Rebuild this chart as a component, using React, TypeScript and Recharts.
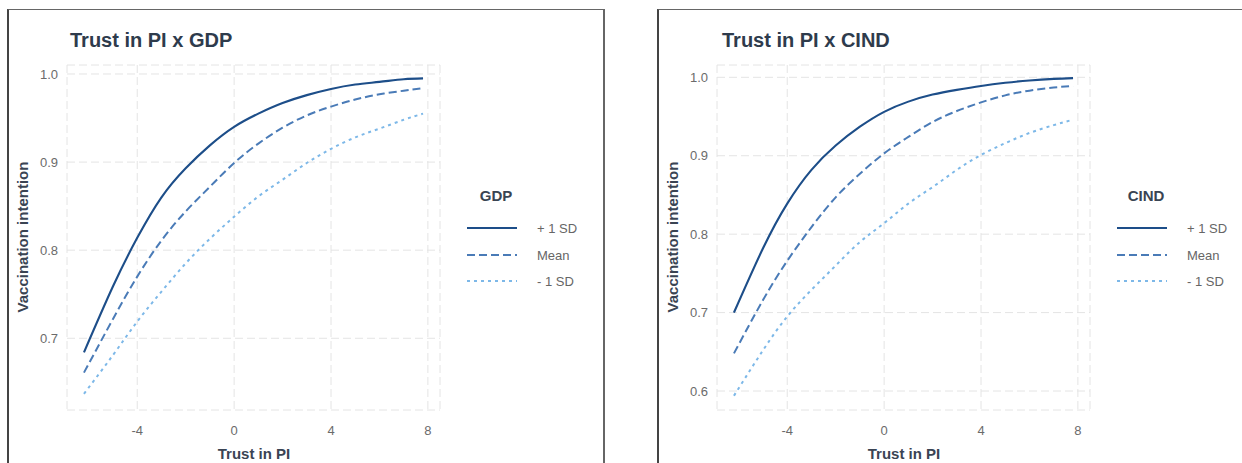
import React from 'react';
import { LineChart, Line, XAxis, YAxis, CartesianGrid, Legend } from 'recharts';

// Trust in public institutions (x) at which predicted intention is evaluated
const trustLevels = [-6.2, -5, -4, -3, -2, -1, 0, 1, 2, 3, 4, 5, 6, 7, 7.8];

// Predicted vaccination intention, GDP moderator
const gdpPlusSd = [0.684, 0.759, 0.814, 0.86, 0.893, 0.919, 0.94, 0.955, 0.967, 0.976, 0.983, 0.988, 0.991, 0.994, 0.995];
const gdpMean = [0.661, 0.722, 0.77, 0.811, 0.844, 0.872, 0.899, 0.921, 0.939, 0.953, 0.963, 0.971, 0.977, 0.981, 0.984];
const gdpMinusSd = [0.637, 0.681, 0.719, 0.753, 0.785, 0.813, 0.838, 0.861, 0.88, 0.899, 0.915, 0.928, 0.938, 0.948, 0.955];

// Predicted vaccination intention, CIND moderator
const cindPlusSd = [0.7, 0.782, 0.839, 0.882, 0.913, 0.937, 0.956, 0.969, 0.978, 0.984, 0.989, 0.993, 0.996, 0.998, 0.999];
const cindMean = [0.648, 0.716, 0.766, 0.809, 0.847, 0.877, 0.903, 0.924, 0.943, 0.957, 0.968, 0.977, 0.983, 0.987, 0.989];
const cindMinusSd = [0.594, 0.652, 0.695, 0.729, 0.76, 0.79, 0.814, 0.839, 0.86, 0.882, 0.901, 0.916, 0.929, 0.939, 0.946];

const xTicks = [-4, 0, 4, 8];
const gdpYTicks = [0.7, 0.8, 0.9, 1.0];
const cindYTicks = [0.6, 0.7, 0.8, 0.9, 1.0];
const seriesLabels = ['+ 1 SD', 'Mean', '- 1 SD'];

const FONT = '"Liberation Sans", Arial, Helvetica, sans-serif';

const lineStyles = [
  { key: 'high', color: '#1d4e89', dash: undefined as string | undefined, width: 2.1 },
  { key: 'mean', color: '#4a7bb7', dash: '8 4', width: 2 },
  { key: 'low', color: '#7db8e8', dash: '3 4', width: 2 },
];

type PanelProps = {
  left: number;
  title: string;
  titleX: number;
  moderator: string;
  high: number[];
  mean: number[];
  low: number[];
  yDomain: [number, number];
  yTicks: number[];
};

function LegendBlock({ moderator }: { moderator: string }) {
  return (
    <div style={{ position: 'relative', width: 150, height: 120, fontFamily: FONT }}>
      <div
        style={{
          position: 'absolute',
          left: 36,
          top: 15,
          transform: 'translate(-50%, -50%)',
          fontSize: 15,
          fontWeight: 700,
          color: '#3a4453',
          whiteSpace: 'nowrap',
        }}
      >
        {moderator}
      </div>
      {lineStyles.map((s, i) => {
        const cy = 48 + i * 26.5;
        return (
          <React.Fragment key={s.key}>
            <svg
              width={52}
              height={6}
              style={{ position: 'absolute', left: 6, top: cy - 3, overflow: 'visible' }}
            >
              <line x1={1} y1={3} x2={51} y2={3} stroke={s.color} strokeWidth={s.width} strokeDasharray={s.dash} />
            </svg>
            <div
              style={{
                position: 'absolute',
                left: 77,
                top: cy,
                transform: 'translateY(-50%)',
                fontSize: 13,
                color: '#666',
                whiteSpace: 'nowrap',
              }}
            >
              {seriesLabels[i]}
            </div>
          </React.Fragment>
        );
      })}
    </div>
  );
}

function Panel({ left, title, titleX, moderator, high, mean, low, yDomain, yTicks }: PanelProps) {
  const rows = trustLevels.map((t, i) => ({ trust: t, high: high[i], mean: mean[i], low: low[i] }));
  return (
    <div style={{ position: 'absolute', left, top: 0, width: 620, height: 463 }}>
      {/* panel frame */}
      <div
        style={{
          position: 'absolute',
          left: 7,
          top: 9,
          width: 594,
          height: 470,
          borderLeft: '2px solid #444',
          borderTop: '1px solid #666',
          borderRight: '2px solid #666',
        }}
      />
      <LineChart width={620} height={463} data={rows} margin={{ top: 65, right: 180, bottom: 23, left: 7 }}>
        <CartesianGrid stroke="#e4e4e4" strokeDasharray="8 4" />
        <XAxis
          dataKey="trust"
          type="number"
          domain={[-6.9, 8.5]}
          ticks={xTicks}
          axisLine={false}
          tickLine={false}
          tickSize={0}
          tickMargin={16}
          height={30}
          tick={{ fontSize: 13, fill: '#6b6b6b', fontFamily: FONT }}
        />
        <YAxis
          type="number"
          domain={yDomain}
          ticks={yTicks}
          allowDataOverflow
          axisLine={false}
          tickLine={false}
          tickSize={0}
          tickMargin={9}
          width={60}
          tickFormatter={(v: number) => v.toFixed(1)}
          tick={{ fontSize: 13, fill: '#6b6b6b', fontFamily: FONT }}
        />
        {lineStyles.map((s) => (
          <Line
            key={s.key}
            dataKey={s.key}
            type="natural"
            stroke={s.color}
            strokeWidth={s.width}
            strokeDasharray={s.dash}
            dot={false}
            activeDot={false}
            isAnimationActive={false}
          />
        ))}
        <Legend
          layout="vertical"
          align="center"
          verticalAlign="middle"
          wrapperStyle={{ left: 460, top: 180, width: 150, height: 120 }}
          content={() => <LegendBlock moderator={moderator} />}
        />
      </LineChart>
      <div
        style={{
          position: 'absolute',
          left: titleX,
          top: 40,
          transform: 'translateY(-50%)',
          fontFamily: FONT,
          fontSize: 20,
          fontWeight: 700,
          color: '#2e3b4c',
          whiteSpace: 'nowrap',
        }}
      >
        {title}
      </div>
      <div
        style={{
          position: 'absolute',
          left: 22,
          top: 237,
          transform: 'translate(-50%, -50%) rotate(-90deg)',
          fontFamily: FONT,
          fontSize: 15,
          fontWeight: 700,
          color: '#3a4453',
          whiteSpace: 'nowrap',
        }}
      >
        Vaccination intention
      </div>
      <div
        style={{
          position: 'absolute',
          left: 254,
          top: 453,
          transform: 'translate(-50%, -50%)',
          fontFamily: FONT,
          fontSize: 15,
          fontWeight: 700,
          color: '#3a4453',
          whiteSpace: 'nowrap',
        }}
      >
        Trust in PI
      </div>
    </div>
  );
}

export default function App() {
  return (
    <div
      style={{
        position: 'absolute',
        left: 0,
        top: 0,
        width: 1242,
        height: 463,
        overflow: 'hidden',
        background: '#fff',
      }}
    >
      <Panel
        left={0}
        title="Trust in PI x GDP"
        titleX={70}
        moderator="GDP"
        high={gdpPlusSd}
        mean={gdpMean}
        low={gdpMinusSd}
        yDomain={[0.6186, 1.0102]}
        yTicks={gdpYTicks}
      />
      <Panel
        left={650}
        title="Trust in PI x CIND"
        titleX={72}
        moderator="CIND"
        high={cindPlusSd}
        mean={cindMean}
        low={cindMinusSd}
        yDomain={[0.5758, 1.0157]}
        yTicks={cindYTicks}
      />
    </div>
  );
}
